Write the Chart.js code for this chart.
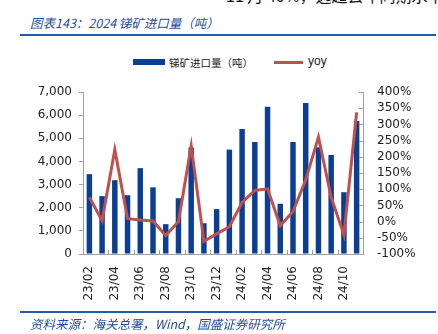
<!DOCTYPE html>
<html>
<head>
<meta charset="utf-8">
<script src="https://cdn.jsdelivr.net/npm/chart.js@4.4.1/dist/chart.umd.min.js"></script>
<style>
    body { margin: 0; background: #fff; }
    #wrap { position: relative; width: 438px; height: 334px; overflow: hidden; }
    #chart { position: absolute; left: 0; top: 0; }
    .cut { position: absolute; left: 226px; top: -17px; font: 16px "Noto Sans CJK SC"; color: #111; white-space: nowrap; }
    .title { position: absolute; left: 30px; top: 13px; font: italic 12.5px "Noto Sans CJK SC"; color: #1f4e9a; white-space: nowrap; }
    .rule { position: absolute; left: 20px; width: 416px; height: 2px; background: #2a5aa5; }
    .source { position: absolute; left: 30px; top: 314px; font: italic 12.5px "Noto Sans CJK SC"; color: #1f4e9a; white-space: nowrap; }
    .leg { position: absolute; font-size: 10.5px; color: #222; white-space: nowrap; }
</style>
</head>
<body>
<div id="wrap">
    <div class="cut">11 月 40%，远超去年同期水平</div>
    <div class="title">图表143：2024 锑矿进口量（吨）</div>
    <div class="rule" style="top:34px"></div>
    <div class="leg" style="left:133px; top:59px; width:32px; height:6px; background:#0b3f95"></div>
    <div class="leg" style="left:169px; top:55px; font-family:'Noto Sans CJK SC'">锑矿进口量（吨）</div>
    <div class="leg" style="left:274px; top:61px; width:29px; height:3px; background:#c0504d"></div>
    <div class="leg" style="left:308px; top:54px; font:12px 'Liberation Sans'">yoy</div>
    <canvas id="chart" width="438" height="334"></canvas>
    <div class="rule" style="top:311px"></div>
    <div class="source">资料来源：海关总署，Wind，国盛证券研究所</div>
</div>
<script>
const months = ['23/02', '23/03', '23/04', '23/05', '23/06', '23/07', '23/08', '23/09', '23/10', '23/11', '23/12',
                '24/01', '24/02', '24/03', '24/04', '24/05', '24/06', '24/07', '24/08', '24/09', '24/10', '24/11'];
const imports = [3450, 2500, 3190, 2540, 3710, 2880, 1290, 2410, 4600, 1330, 1940,
                 4510, 5400, 4840, 6360, 2170, 4840, 6520, 4610, 4280, 2670, 5750];
const yoy = [75, 3, 222, 9, 5, 2, -43, 0, 234, -61, -38,
             -16, 59, 96, 101, -13, 31, 129, 261, 75, -41, 337];

const axisGray = '#a0a0a0';
const tickFont = { family: 'DejaVu Sans', size: 12 };

// small tick marks drawn inside the plot (bottom axis every 2 months, right axis)
const innerTicks = {
    id: 'innerTicks',
    afterDraw(chart) {
        const ctx = chart.ctx;
        const x = chart.scales.x;
        const yR = chart.scales.yR;
        ctx.save();
        ctx.strokeStyle = axisGray;
        ctx.lineWidth = 1;
        ctx.beginPath();
        const step = (x.right - x.left) / months.length;
        for (let i = 0; i <= months.length; i += 2) {
            const px = Math.round(x.left + i * step) + 0.5;
            ctx.moveTo(px, x.top);
            ctx.lineTo(px, x.top - 4);
        }
        yR.ticks.forEach(t => {
            const py = Math.round(yR.getPixelForValue(t.value)) + 0.5;
            ctx.moveTo(yR.left, py);
            ctx.lineTo(yR.left - 4, py);
        });
        ctx.stroke();
        ctx.restore();
    }
};

new Chart(document.getElementById('chart'), {
    data: {
        labels: months,
        datasets: [
            {
                type: 'line',
                label: 'yoy',
                data: yoy,
                yAxisID: 'yR',
                borderColor: '#c0504d',
                borderWidth: 3,
                pointRadius: 0,
                tension: 0,
                order: 1
            },
            {
                type: 'bar',
                label: '锑矿进口量（吨）',
                data: imports,
                yAxisID: 'y',
                backgroundColor: '#0b3f95',
                barPercentage: 0.43,
                categoryPercentage: 1,
                order: 2
            }
        ]
    },
    options: {
        responsive: false,
        animation: false,
        layout: { padding: { top: 92, left: 0, right: 0, bottom: 0 } },
        plugins: { legend: { display: false }, tooltip: { enabled: false } },
        scales: {
            x: {
                offset: true,
                grid: { display: false },
                border: { color: axisGray },
                ticks: {
                    autoSkip: false,
                    minRotation: 90,
                    maxRotation: 90,
                    padding: 4,
                    color: '#222',
                    font: tickFont,
                    callback: (v, i) => i % 2 === 0 ? months[i] : ''
                },
                afterFit: s => { s.height = 80; }
            },
            y: {
                position: 'left',
                min: 0,
                max: 7000,
                grid: { drawOnChartArea: false, tickLength: 4, color: axisGray },
                border: { color: axisGray },
                ticks: {
                    stepSize: 1000,
                    autoSkip: false,
                    padding: 7,
                    color: '#222',
                    font: tickFont,
                    callback: v => v.toLocaleString('en-US')
                },
                afterFit: s => { s.width = 83; }
            },
            yR: {
                position: 'right',
                min: -100,
                max: 400,
                grid: { drawOnChartArea: false, drawTicks: false },
                border: { color: axisGray },
                ticks: {
                    stepSize: 50,
                    autoSkip: false,
                    padding: 14,
                    color: '#222',
                    font: tickFont,
                    callback: v => v + '%'
                },
                afterFit: s => { s.width = 75; }
            }
        }
    },
    plugins: [innerTicks]
});
</script>
</body>
</html>
